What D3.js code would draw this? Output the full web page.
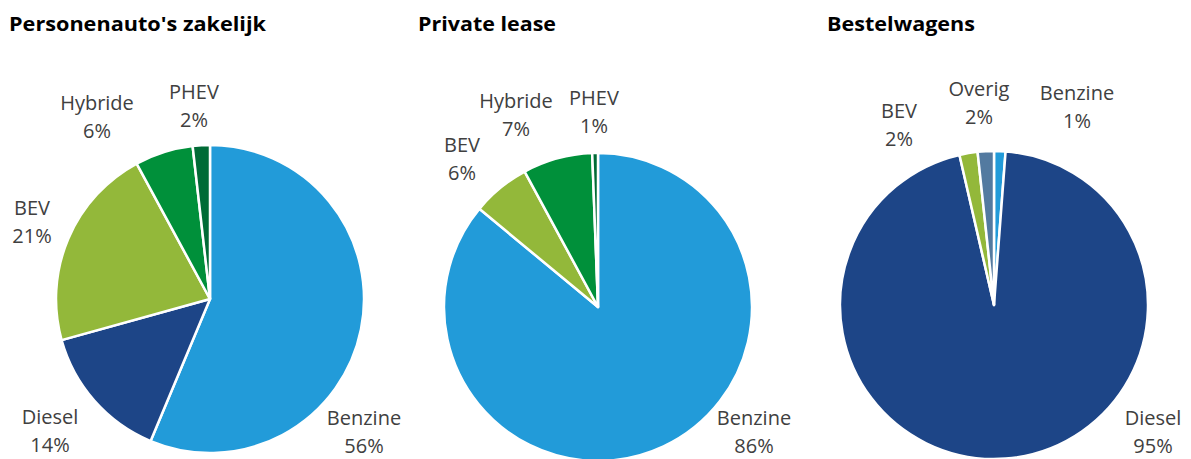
<!DOCTYPE html>
<html><head><meta charset="utf-8">
<script src="https://cdn.jsdelivr.net/npm/d3@7"></script>
<style>
body{margin:0;background:#fff;}
svg{display:block;}
text{font-family:"Open Sans",Lato,sans-serif;}
</style></head>
<body><svg id="c" width="1191" height="459"></svg>
<script>
// Data
const titles = ["Personenauto's zakelijk", "Private lease", "Bestelwagens"];
const cats1 = ["Benzine", "Diesel", "BEV", "Hybride", "PHEV"];
const vals1 = [56.3, 14.4, 21.4, 6.1, 1.8];
const pcts1 = ["56%", "14%", "21%", "6%", "2%"];
const cats2 = ["Benzine", "BEV", "Hybride", "PHEV"];
const vals2 = [86.0, 6.1, 7.3, 0.6];
const pcts2 = ["86%", "6%", "7%", "1%"];
const cats3 = ["Benzine", "Diesel", "BEV", "Overig"];
const vals3 = [1.2, 95.2, 1.9, 1.7];
const pcts3 = ["1%", "95%", "2%", "2%"];

const colors = {Benzine:"#229BD9", Diesel:"#1D4587", BEV:"#93B83A", Hybride:"#00903A", PHEV:"#006B36", Overig:"#537AA0"};

const svg = d3.select("#c");
const R = 154;
const titleW = [257, 138, 148];
const panels = [
  {cats:cats1, vals:vals1, pcts:pcts1, cx:210, cy:299, tx:9,
   lab:{Benzine:[364,425],Diesel:[50,424],BEV:[32,215],Hybride:[97,110],PHEV:[194,99]}},
  {cats:cats2, vals:vals2, pcts:pcts2, cx:598, cy:307, tx:418,
   lab:{Benzine:[754,425],BEV:[462,152],Hybride:[516,108],PHEV:[594,105]}},
  {cats:cats3, vals:vals3, pcts:pcts3, cx:994, cy:305, tx:827,
   lab:{Benzine:[1077,100],Diesel:[1153,425],BEV:[899,118],Overig:[979,96]}}
];

const pie = d3.pie().sort(null).value(d => d.v);
const arc = d3.arc().innerRadius(0).outerRadius(R);

panels.forEach((p, i) => {
  svg.append("text").attr("x", p.tx).attr("y", 31)
    .attr("font-size", 20).attr("font-weight", "bold").attr("fill", "#000")
    .attr("textLength", titleW[i]).attr("lengthAdjust", "spacingAndGlyphs")
    .text(titles[i]);
  const data = p.cats.map((c, j) => ({c, v:p.vals[j], pct:p.pcts[j]}));
  const g = svg.append("g").attr("transform", `translate(${p.cx},${p.cy})`);
  g.selectAll("path").data(pie(data)).join("path")
    .attr("d", arc).attr("fill", d => colors[d.data.c])
    .attr("stroke", "#fff").attr("stroke-width", 2.5).attr("stroke-linejoin", "round");
  data.forEach(d => {
    const [x, y] = p.lab[d.c];
    const t = svg.append("text").attr("x", x).attr("y", y)
      .attr("text-anchor", "middle").attr("font-size", 20).attr("fill", "#404040");
    t.append("tspan").attr("x", x).text(d.c);
    t.append("tspan").attr("x", x).attr("dy", 28).text(d.pct);
  });
});
</script></body></html>
